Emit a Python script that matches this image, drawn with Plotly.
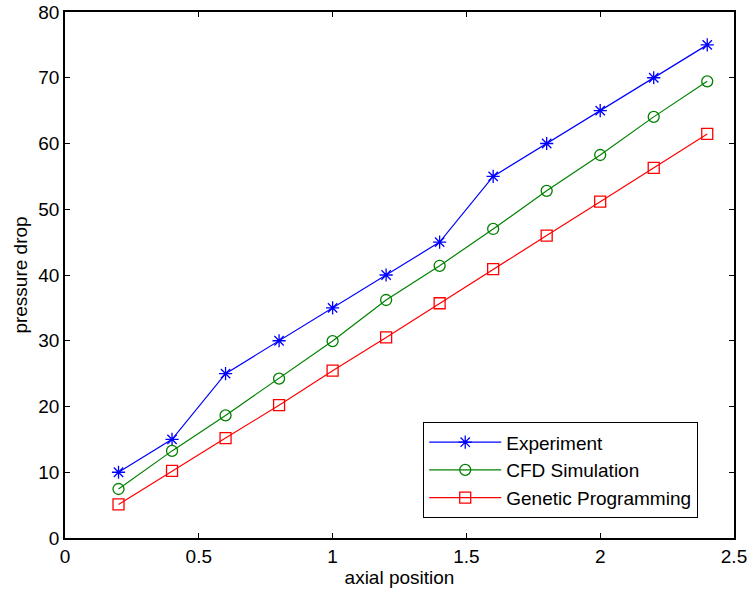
import plotly.graph_objects as go

x = [0.2, 0.4, 0.6, 0.8, 1.0, 1.2, 1.4, 1.6, 1.8, 2.0, 2.2, 2.4]
experiment = [10, 15, 25, 30, 35, 40, 45, 55, 60, 65, 70, 75]
cfd = [7.45, 13.25, 18.65, 24.25, 29.95, 36.2, 41.4, 47.0, 52.8, 58.25, 64.05, 69.45]
gp = [5.1, 10.2, 15.2, 20.2, 25.45, 30.5, 35.7, 40.9, 46.0, 51.15, 56.3, 61.45]

series = [
    ("Experiment", experiment, "#0000ff", "asterisk-open"),
    ("CFD Simulation", cfd, "#008000", "circle-open"),
    ("Genetic Programming", gp, "#ff0000", "square-open"),
]

FONT = "Liberation Sans, Arial"
FS = 19

fig = go.Figure()
for name, ys, col, sym in series:
    fig.add_trace(go.Scatter(
        x=x, y=ys, name=name, mode="lines+markers",
        line=dict(color=col, width=1.2),
        marker=dict(symbol=sym, size=11, color=col, line=dict(color=col, width=1.3)),
    ))

axis_common = dict(
    showline=True, linecolor="black", linewidth=1.5, mirror="ticks",
    ticks="inside", ticklen=5, tickwidth=1.3, tickcolor="black",
    showgrid=False, zeroline=False, automargin=False,
    tickfont=dict(family=FONT, size=FS, color="black"),
)

fig.update_layout(
    width=750, height=597,
    margin=dict(l=65, r=16, t=12, b=59),
    paper_bgcolor="white", plot_bgcolor="white",
    font=dict(family=FONT, size=FS, color="black"),
    xaxis=dict(range=[0, 2.5], tickvals=[0, 0.5, 1, 1.5, 2, 2.5],
               ticktext=["0", "0.5", "1", "1.5", "2", "2.5"],
               title=dict(text="axial position", standoff=4,
                          font=dict(family=FONT, size=FS)),
               **axis_common),
    yaxis=dict(range=[0, 80], dtick=10,
               title=dict(text="pressure drop", standoff=6,
                          font=dict(family=FONT, size=FS)),
               **axis_common),
    legend=dict(x=0.535, y=0.038, xanchor="left", yanchor="bottom",
                bordercolor="black", borderwidth=1.3, bgcolor="white",
                font=dict(family=FONT, size=FS),
                itemwidth=72),
    showlegend=True,
)

fig.write_html("out.html")
